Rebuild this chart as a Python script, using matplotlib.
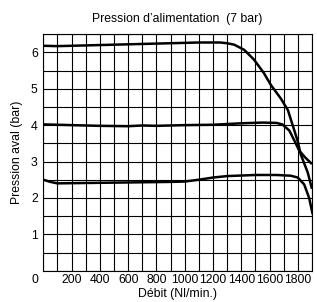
import numpy as np
import matplotlib
matplotlib.use("Agg")
import matplotlib.pyplot as plt

plt.rcParams["font.family"] = ["Liberation Sans", "DejaVu Sans"]

# Courbe 6 bar
debit_6 = [0, 100, 300, 500, 700, 900, 1100, 1250, 1300, 1350, 1420, 1490, 1560, 1610, 1680,
           1730, 1760, 1800, 1820, 1870, 1900]
pression_6 = [6.18, 6.17, 6.19, 6.21, 6.23, 6.25, 6.27, 6.27, 6.25, 6.21, 6.07, 5.80, 5.43,
              5.10, 4.73, 4.41, 4.04, 3.55, 3.20, 2.70, 2.25]

# Courbe 4 bar
debit_4 = [0, 200, 400, 600, 700, 800, 1000, 1200, 1400, 1550, 1650, 1690, 1740, 1775, 1810,
           1850, 1900]
pression_4 = [4.02, 4.00, 3.98, 3.97, 3.99, 3.98, 4.00, 4.01, 4.05, 4.07, 4.06, 4.02, 3.85,
              3.58, 3.30, 3.12, 2.93]

# Courbe 2,5 bar
debit_25 = [0, 50, 100, 300, 500, 700, 900, 1000, 1100, 1200, 1300, 1500, 1650, 1750, 1800,
            1845, 1880, 1905]
pression_25 = [2.50, 2.44, 2.40, 2.41, 2.42, 2.43, 2.44, 2.45, 2.50, 2.56, 2.60, 2.63, 2.63,
               2.61, 2.56, 2.37, 2.00, 1.55]

xticks = [200, 400, 600, 800, 1000, 1200, 1400, 1600, 1800]
yticks = [1, 2, 3, 4, 5, 6]

fig = plt.figure(figsize=(3.17, 3.02), dpi=100)
ax = fig.add_axes([0.1366, 0.1036, 0.8475, 0.7834])

for x, y in [(debit_6, pression_6), (debit_4, pression_4), (debit_25, pression_25)]:
    ax.plot(x, y, color="black", lw=1.8, solid_capstyle="butt")

ax.set_xlim(0, 1900)
ax.set_ylim(0, 6.5)
ax.set_xticks(np.arange(0, 1901, 100), minor=True)
ax.set_yticks(np.arange(0, 6.51, 0.5), minor=True)
ax.set_xticks(xticks)
ax.set_yticks(yticks)
ax.grid(which="both", color="black", lw=0.8)
ax.tick_params(which="both", length=0, labelsize=8.8, pad=4)
ax.tick_params(axis="x", pad=2.5)
for s in ax.spines.values():
    s.set_linewidth(0.8)

ax.set_title("Pression d\u2019alimentation  (7 bar)", fontsize=8.8, pad=9)
ax.set_xlabel("Débit (Nl/min.)", fontsize=8.8, labelpad=1)
ax.set_ylabel("Pression aval (bar)", fontsize=8.8, labelpad=6)
fig.text(35 / 317, 1 - 280 / 302, "0", fontsize=8.8, ha="center", va="center")

fig.savefig("out.png", dpi=100)
